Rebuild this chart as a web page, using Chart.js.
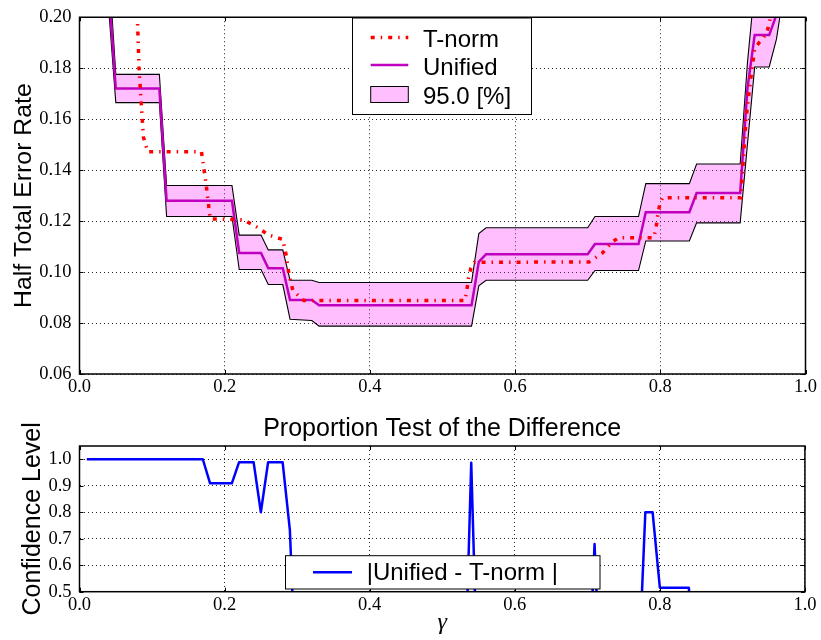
<!DOCTYPE html>
<html>
<head>
<meta charset="utf-8">
<title>HTER vs gamma</title>
<script src="https://cdn.jsdelivr.net/npm/chart.js@4.4.0/dist/chart.umd.min.js"></script>
<style>
  html, body { margin: 0; padding: 0; background: #fff; }
  #wrap { position: relative; width: 821px; height: 640px; }
  canvas { position: absolute; left: 0; }
  #hterCanvas { top: 0; }
  #confCanvas { top: 400px; }
</style>
</head>
<body>
<div id="wrap">
  <canvas id="hterCanvas" width="821" height="400"></canvas>
  <canvas id="confCanvas" width="821" height="240"></canvas>
</div>
<script>
// --- data ---
// gamma grid shared by the Unified curve and its 95% band
const bandGamma = [0.04, 0.05, 0.11, 0.12, 0.21, 0.22, 0.25, 0.26, 0.28, 0.29, 0.32, 0.33, 0.54, 0.55, 0.56, 0.70, 0.71, 0.77, 0.78, 0.84, 0.85, 0.91, 0.92, 0.93, 0.95, 0.96, 0.97];
const unifiedHter = [0.212, 0.172, 0.172, 0.128, 0.128, 0.1075, 0.1075, 0.1015, 0.1015, 0.089, 0.089, 0.087, 0.087, 0.104, 0.107, 0.107, 0.111, 0.111, 0.1235, 0.1235, 0.131, 0.131, 0.172, 0.193, 0.193, 0.201, 0.230];
const upperHter = [0.222, 0.1776, 0.1776, 0.134, 0.134, 0.1145, 0.1145, 0.1087, 0.1087, 0.0968, 0.0968, 0.0959, 0.0959, 0.1151, 0.1174, 0.1174, 0.1218, 0.1218, 0.1347, 0.1347, 0.1424, 0.1424, 0.182, 0.212, 0.215, 0.230, 0.250];
const lowerHter = [0.204, 0.1665, 0.1665, 0.1218, 0.1218, 0.101, 0.101, 0.0951, 0.0951, 0.0815, 0.0810, 0.0788, 0.0788, 0.0946, 0.0968, 0.0968, 0.1006, 0.1006, 0.1122, 0.1122, 0.1193, 0.1193, 0.150, 0.1805, 0.1805, 0.1914, 0.210];

// T-norm curve
const tnormGamma = [0.078, 0.082, 0.085, 0.088, 0.094, 0.168, 0.1745, 0.180, 0.226, 0.244, 0.261, 0.280, 0.285, 0.2885, 0.294, 0.309, 0.531, 0.533, 0.536, 0.539, 0.544, 0.702, 0.720, 0.734, 0.743, 0.791, 0.794, 0.797, 0.800, 0.803, 0.911, 0.918, 0.924, 0.930, 0.936, 0.942, 0.948, 0.951, 0.956];
const tnormHter = [0.215, 0.180, 0.1664, 0.153, 0.1472, 0.1472, 0.1343, 0.1209, 0.1205, 0.1177, 0.1145, 0.1128, 0.1061, 0.0991, 0.0927, 0.0888, 0.0888, 0.0920, 0.0978, 0.1014, 0.1038, 0.1040, 0.1074, 0.1119, 0.1135, 0.1135, 0.1170, 0.1235, 0.1273, 0.1292, 0.1292, 0.160, 0.1747, 0.1876, 0.1900, 0.1917, 0.1953, 0.1990, 0.215];

// proportion test of the difference
const confGamma = [0.01, 0.17, 0.18, 0.21, 0.22, 0.24, 0.25, 0.26, 0.28, 0.29, 0.30, 0.53, 0.54, 0.55, 0.70, 0.71, 0.72, 0.77, 0.78, 0.79, 0.80, 0.84, 0.85];
const confLevel = [1.0, 1.0, 0.909, 0.909, 0.989, 0.989, 0.80, 0.989, 0.989, 0.732, 0.05, 0.02, 0.987, 0.02, 0.02, 0.68, 0.02, 0.15, 0.80, 0.80, 0.515, 0.515, 0.0];

// ticks
const gammaTicks = [0.0, 0.2, 0.4, 0.6, 0.8, 1.0];
const hterTicks = [0.06, 0.08, 0.10, 0.12, 0.14, 0.16, 0.18, 0.20];
const confTicks = [0.5, 0.6, 0.7, 0.8, 0.9, 1.0];

const SANS = '"Liberation Sans", Arial, sans-serif';
const SERIF = '"Liberation Serif", "Times New Roman", serif';
const GRID_COLOR = 'rgba(0, 0, 0, 0.85)';

function toPoints(xs, ys) {
  return xs.map((x, i) => ({ x: x, y: ys[i] }));
}

function fixedTicks(values) {
  return scale => { scale.ticks = values.map(v => ({ value: v })); };
}

// matplotlib-like frame: full box + inward tick marks
const frameAndTicks = {
  id: 'frameAndTicks',
  afterDatasetsDraw(chart) {
    const { ctx, chartArea: a, scales } = chart;
    const tl = 4;
    ctx.save();
    ctx.strokeStyle = '#000';
    ctx.lineWidth = 1;
    ctx.beginPath();
    scales.x.ticks.forEach(t => {
      const px = Math.round(scales.x.getPixelForValue(t.value)) + 0.5;
      ctx.moveTo(px, a.bottom); ctx.lineTo(px, a.bottom - tl);
      ctx.moveTo(px, a.top); ctx.lineTo(px, a.top + tl);
    });
    scales.y.ticks.forEach(t => {
      const py = Math.round(scales.y.getPixelForValue(t.value)) + 0.5;
      ctx.moveTo(a.left, py); ctx.lineTo(a.left + tl, py);
      ctx.moveTo(a.right, py); ctx.lineTo(a.right - tl, py);
    });
    ctx.stroke();
    ctx.lineWidth = 1.5;
    ctx.strokeRect(a.left, a.top, a.right - a.left, a.bottom - a.top);
    ctx.restore();
  }
};

// legend box drawn inside the axes, on top of the data
const boxLegend = {
  id: 'boxLegend',
  afterDraw(chart, args, opts) {
    const { ctx } = chart;
    const b = opts.box;
    ctx.save();
    ctx.fillStyle = '#fff';
    ctx.fillRect(b.x, b.y, b.w, b.h);
    ctx.strokeStyle = '#000';
    ctx.lineWidth = 1;
    ctx.strokeRect(b.x, b.y, b.w, b.h);
    ctx.font = '24px ' + SANS;
    ctx.textBaseline = 'alphabetic';
    opts.items.forEach(it => {
      const ds = chart.data.datasets[it.ds];
      const [x0, x1] = opts.handleX;
      if (it.kind === 'line') {
        ctx.save();
        ctx.strokeStyle = ds.borderColor;
        ctx.lineWidth = ds.borderWidth;
        ctx.lineCap = 'butt';
        ctx.setLineDash(ds.borderDash || []);
        ctx.beginPath();
        ctx.moveTo(x0, it.y);
        ctx.lineTo(x1, it.y);
        ctx.stroke();
        ctx.restore();
      } else {
        ctx.fillStyle = ds.backgroundColor;
        ctx.fillRect(x0, it.y - 8, x1 - x0, 16);
        ctx.strokeStyle = '#000';
        ctx.lineWidth = 1;
        ctx.strokeRect(x0, it.y - 8, x1 - x0, 16);
      }
      ctx.fillStyle = '#000';
      ctx.fillText(ds.label, opts.textX, it.baseline);
    });
    ctx.restore();
  }
};

function xScale(height, tickPad, title) {
  return {
    type: 'linear',
    min: 0,
    max: 1,
    afterBuildTicks: fixedTicks(gammaTicks),
    afterFit: s => { s.height = height; },
    grid: { color: GRID_COLOR, lineWidth: 1, drawTicks: false },
    border: { display: false, dash: [1, 3] },
    ticks: {
      color: '#000',
      padding: tickPad,
      maxRotation: 0,
      autoSkip: false,
      font: { family: SERIF, size: 18.5, lineHeight: 1 },
      callback: v => Number(v).toFixed(1)
    },
    title: title || { display: false }
  };
}

function yScale(min, max, ticks, digits, title) {
  return {
    type: 'linear',
    min: min,
    max: max,
    afterBuildTicks: fixedTicks(ticks),
    afterFit: s => { s.width = 79.5; },
    grid: { color: GRID_COLOR, lineWidth: 1, drawTicks: false },
    border: { display: false, dash: [1, 3] },
    ticks: {
      color: '#000',
      padding: 8,
      autoSkip: false,
      font: { family: SERIF, size: 18.5, lineHeight: 1 },
      callback: v => Number(v).toFixed(digits)
    },
    title: title
  };
}

// --- top chart: half total error rate ---
new Chart(document.getElementById('hterCanvas'), {
  type: 'line',
  data: {
    datasets: [
      {
        label: 'T-norm',
        data: toPoints(tnormGamma, tnormHter),
        borderColor: '#ff0000',
        borderWidth: 3.5,
        borderDash: [4, 6, 1.5, 6],
        borderCapStyle: 'butt',
        pointRadius: 0,
        fill: false,
        clip: 0
      },
      {
        label: 'Unified',
        data: toPoints(bandGamma, unifiedHter),
        borderColor: '#bf00bf',
        borderWidth: 2.5,
        pointRadius: 0,
        fill: false,
        clip: 0
      },
      {
        label: '95.0 [%]',
        data: toPoints(bandGamma, upperHter),
        borderColor: '#000',
        borderWidth: 1.1,
        backgroundColor: 'rgba(255, 0, 255, 0.25)',
        pointRadius: 0,
        fill: '+1',
        clip: 0
      },
      {
        label: 'lower',
        data: toPoints(bandGamma, lowerHter),
        borderColor: '#000',
        borderWidth: 1.1,
        pointRadius: 0,
        fill: false,
        clip: 0
      }
    ]
  },
  options: {
    responsive: false,
    animation: false,
    events: [],
    layout: { padding: { top: 11, right: 15.5, left: 0, bottom: 0 } },
    plugins: {
      legend: { display: false },
      tooltip: { enabled: false },
      filler: { drawTime: 'beforeDatasetsDraw' },
      boxLegend: {
        box: { x: 352.5, y: 18, w: 179, h: 96.5 },
        handleX: [370.7, 408.3],
        textX: 423,
        items: [
          { ds: 0, kind: 'line', y: 37.5, baseline: 46.5 },
          { ds: 1, kind: 'line', y: 65, baseline: 75 },
          { ds: 2, kind: 'patch', y: 94.5, baseline: 104 }
        ]
      }
    },
    scales: {
      x: xScale(26, 3.5),
      y: yScale(0.06, 0.20, hterTicks, 2, {
        display: true,
        text: 'Half Total Error Rate',
        color: '#000',
        font: { family: SANS, size: 24.8, lineHeight: 1.2 },
        padding: { top: 9.5, bottom: 0 }
      })
    }
  },
  plugins: [frameAndTicks, boxLegend]
});

// --- bottom chart: proportion test ---
new Chart(document.getElementById('confCanvas'), {
  type: 'line',
  data: {
    datasets: [
      {
        label: '|Unified - T-norm |',
        data: toPoints(confGamma, confLevel),
        borderColor: '#0000ff',
        borderWidth: 2.5,
        borderJoinStyle: 'round',
        pointRadius: 0,
        fill: false,
        clip: 0
      }
    ]
  },
  options: {
    responsive: false,
    animation: false,
    events: [],
    layout: { padding: { top: 0, right: 15.5, left: 0, bottom: 0 } },
    plugins: {
      legend: { display: false },
      tooltip: { enabled: false },
      title: {
        display: true,
        text: 'Proportion Test of the Difference',
        fullSize: false,
        color: '#000',
        font: { family: SANS, size: 25, weight: 'normal', lineHeight: 1.2 },
        padding: { top: 14.6, bottom: 1.4 }
      },
      boxLegend: {
        box: { x: 285.5, y: 155.7, w: 314.5, h: 33.3 },
        handleX: [313, 352],
        textX: 366.7,
        items: [
          { ds: 0, kind: 'line', y: 172.3, baseline: 180 }
        ]
      }
    },
    scales: {
      x: xScale(48.3, 4.5, {
        display: true,
        text: 'γ',
        color: '#000',
        font: { family: SERIF, size: 24, style: 'italic', lineHeight: 1.2 },
        padding: { top: 0, bottom: 3 }
      }),
      y: yScale(0.5, 1.05, confTicks, 1, {
        display: true,
        text: 'Confidence Level',
        color: '#000',
        font: { family: SANS, size: 25, lineHeight: 1.2 },
        padding: { top: 18, bottom: 0 }
      })
    }
  },
  plugins: [frameAndTicks, boxLegend]
});
</script>
</body>
</html>
